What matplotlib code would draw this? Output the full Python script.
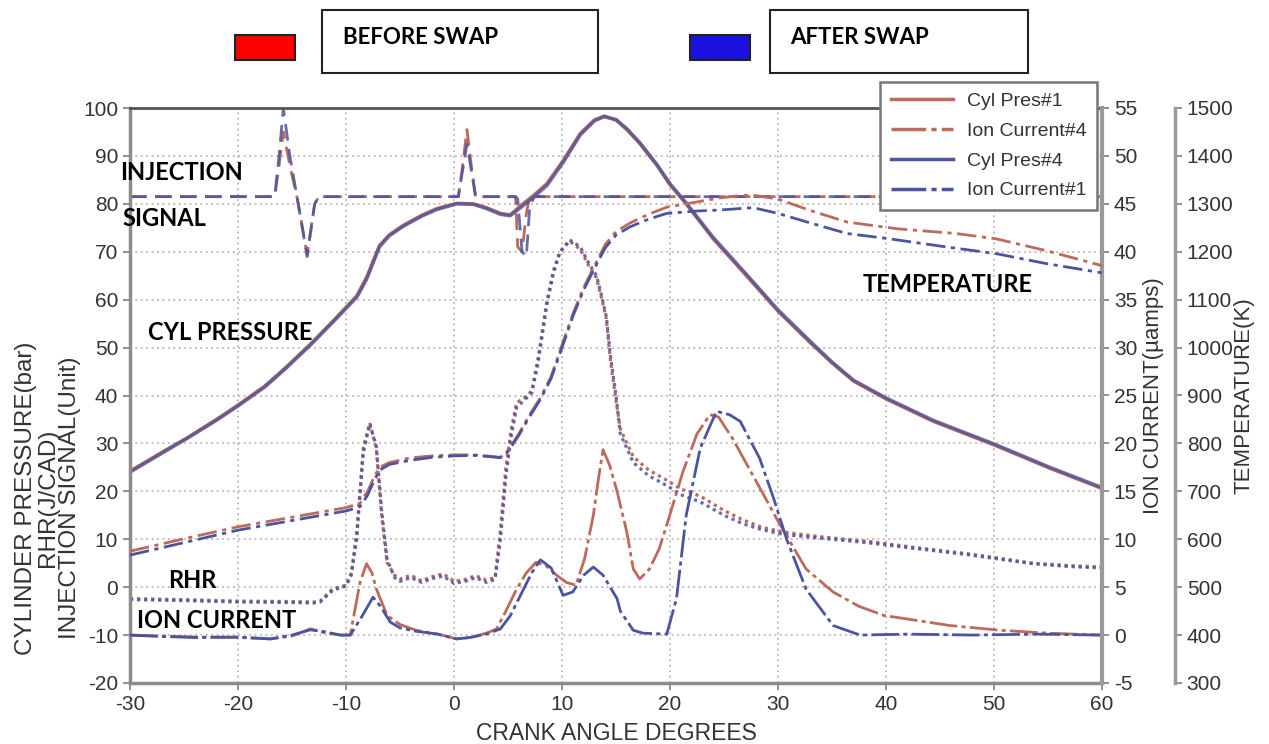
import matplotlib
matplotlib.use('Agg')
import matplotlib.pyplot as plt
from matplotlib.lines import Line2D
from matplotlib.patches import Rectangle

plt.rcParams['font.family'] = ['Liberation Sans', 'DejaVu Sans']
plt.rcParams['axes.unicode_minus'] = False

RED = '#bd6a5c'
BLUE = '#4a54a0'

# ---- injection signal (unit, left axis)
inj_x = [-30, -16.6, -16.2, -15.8, -15.2, -14.5, -13.6, -12.9, -12.5, 0.4, 0.8, 1.2, 1.6, 2.0,
         5.7, 5.9, 6.3, 6.7, 7.0, 7.4, 60]
inj_red = [81.5, 81.5, 88, 95, 88, 81, 69.5, 80, 81.5, 81.5, 88, 95.5, 88, 81.5,
           81.5, 71, 70, 78, 81.5, 81.5, 81.5]
inj_blue = [81.5, 81.5, 90, 100, 90, 81, 69, 80, 81.5, 81.5, 87, 92.5, 87, 81.5,
            81.5, 81, 70, 69, 79, 81.5, 81.5]

# ---- cylinder pressure (bar, left axis)
p_x = [-30, -27, -24.75, -22, -20, -17.5, -15.5, -13.3, -11, -9, -8.1, -6.9, -6, -4.7, -3, -1.6,
       0.25, 1.8, 3, 4.3, 5.2, 6.4, 7.5, 8.6, 10.1, 11.7, 13, 13.9, 15, 16, 17.2, 18.8, 20, 21.5,
       24, 27, 30, 33, 35, 37, 40, 44.4, 50, 55.2, 60]
p_red = [24.2, 28.2, 31.1, 35, 38, 42, 46, 50.7, 56, 60.8, 64.6, 71.3, 73.5, 75.5, 77.6, 79,
         80.1, 80, 79.2, 78, 77.7, 80, 82, 84.2, 89, 94.7, 97.5, 98.3, 97.5, 95.5, 92.6, 88, 84, 80,
         72.7, 65.2, 57.6, 51, 46.8, 43, 39.3, 34.6, 29.7, 24.8, 20.6]
p_blue = [24.0, 28.0, 31.0, 34.8, 37.8, 41.8, 45.8, 50.5, 55.8, 60.5, 64.2, 71.0, 73.3, 75.3, 77.4, 78.8,
          80.0, 79.9, 79.0, 77.8, 77.5, 79.6, 81.6, 83.8, 88.6, 94.4, 97.3, 98.2, 97.6, 95.7, 92.8, 88.2, 84.2,
          80.2, 73.0, 65.5, 57.9, 51.3, 47.0, 43.2, 39.5, 34.8, 29.9, 25.0, 20.8]

# ---- RHR (J/CAD, left axis)
r_x = [-30, -25, -20, -15, -13, -12.4, -11.2, -10, -9.5, -9, -8.4, -7.8, -7.2, -6.7, -6.2, -5.5, -5,
       -4, -3, -2, -1, 0, 1, 2, 3, 3.8, 4.3, 4.8, 5.3, 5.8, 6.5, 7.2, 7.8, 8.6, 9.2, 9.8, 10.7, 11.7,
       12.5, 13.2, 13.7, 14.1, 14.5, 15, 15.4, 16.6, 18, 19.7, 21, 22.8, 25, 26.8, 28.5, 30.5, 34,
       38.2, 43, 47.5, 50, 53.6, 57, 60]
r_red = [-2.4, -2.6, -2.9, -3.0, -3.1, -2.9, -0.3, 0.4, 3, 11.5, 29, 34.3, 29, 15, 5.2, 2.5, 1.7,
         2.5, 1.3, 2.2, 2.8, 1.2, 1.6, 2.4, 1.5, 2, 12, 25, 33, 38.5, 39.5, 41, 48, 59.7, 66, 70, 72.2,
         70.5, 67, 64.5, 60, 56, 47, 39, 33, 27.2, 24.5, 22.3, 20.5, 19, 16, 14, 12.5, 11.5, 10.5,
         9.6, 8.2, 7, 6.2, 5, 4.5, 4.2]
r_blue = [-2.6, -2.8, -3.1, -3.2, -3.3, -3.1, -0.6, 0.2, 2.6, 10.5, 28, 34.0, 29.5, 16, 5.8, 2.0, 1.2,
          2.0, 1.0, 1.8, 2.3, 0.8, 1.2, 2.0, 1.0, 1.6, 10, 23, 31.5, 37.5, 39, 40.5, 47, 59, 65.5, 69.8, 72.5,
          71.0, 67.5, 65, 60.5, 56.5, 48, 40, 32, 26, 23.3, 21.2, 19.3, 17.8, 15, 13.2, 12.0, 11.0, 10.2,
          9.3, 8.0, 6.8, 6.0, 4.9, 4.3, 4.0]

# ---- temperature (K, second right axis)
t_x_red = [-30, -25, -20, -15, -12, -10, -8.7, -8, -7.4, -6.9, -6, -4, -2, 0, 2, 3.5, 4.3, 5, 6, 7,
           8, 9, 10, 11, 12, 13, 14, 15, 16.3, 18, 19.7, 22.5, 24.5, 26.8, 28, 30, 33, 36.4, 41,
           46.5, 50.2, 54.9, 60]
t_red = [575, 601, 626, 646, 658, 666, 675, 700, 730, 750, 760, 770, 774, 776, 776, 773, 771, 785,
         820, 860, 895, 940, 1005, 1070, 1125, 1170, 1215, 1242, 1260, 1278, 1293, 1304, 1312, 1318,
         1317, 1310, 1286, 1262, 1248, 1238, 1227, 1202, 1171]
t_x_blue = [-30, -25, -20, -15, -12, -10, -8.7, -8, -7.4, -6.9, -6, -4, -2, 0, 2, 3.5, 4.3, 5, 6, 7,
            8, 9, 10, 11, 12, 13, 14, 15, 16.3, 18, 19.7, 22.5, 24.5, 27.7, 30, 33, 36.4, 40, 45.6,
            50.2, 54.9, 60]
t_blue = [567, 593, 619, 639, 651, 659, 668, 692, 722, 744, 756, 765, 771, 774, 775, 772, 770, 783,
          817, 856, 892, 936, 1000, 1065, 1120, 1165, 1208, 1235, 1252, 1268, 1280, 1285, 1287, 1292,
          1280, 1260, 1238, 1228, 1210, 1196, 1175, 1156]

# ---- ion current (uA, first right axis)
i_x_red = [-30, -27, -24, -20, -17, -15, -13.3, -12, -10.5, -9.6, -9.2, -8.7, -8.1, -7.6, -7.2,
           -6.2, -5, -3.5, -1.5, 0.25, 1.5, 3, 3.95, 4.8, 5.8, 6.7, 7.6, 8.5, 9.5, 10.4, 11.3, 12.1,
           12.9, 13.4, 13.8, 14.4, 15.1, 16, 16.6, 17.2, 18.1, 19, 19.7, 21.2, 22.5, 23.7, 24.5,
           25.8, 28, 30.2, 32.6, 35.1, 37.5, 39.8, 43, 45.9, 50.6, 55, 59.8]
i_red = [0, -0.1, -0.2, -0.25, -0.4, -0.1, 0.65, 0.25, 0, 0, 2.5, 5.5, 7.45, 6.5, 4.85,
         2.05, 1.1, 0.5, 0.1, -0.4, -0.25, 0.2, 0.65, 2.5, 4.8, 6.5, 7.6, 7.25, 6.25, 5.5, 5.2, 8,
         12.5, 16.5, 19.35, 17.75, 15, 10.75, 6.9, 5.85, 6.9, 9, 11.5, 17.05, 21, 23, 22.75,
         20.5, 16, 11.5, 6.9, 4.5, 3, 2.05, 1.5, 1, 0.5, 0.2, 0]
i_x_blue = [-30, -27, -24, -20, -17, -15, -13.3, -12, -10.5, -9.6, -8.5, -7.5, -6.8, -5.9, -5,
            -3.5, -1.5, 0.25, 1.5, 3, 4.3, 5.2, 6.2, 7.2, 8, 9, 10.1, 11, 12, 12.9, 13.8, 15.1,
            15.4, 16.6, 17.5, 19.7, 20.6, 21.5, 22.8, 24.3, 25.5, 26.5, 28.3, 29.6, 30.8, 32.6,
            35.1, 37.6, 42, 48, 54, 60]
i_blue = [0, -0.15, -0.25, -0.2, -0.4, 0, 0.55, 0.35, 0, 0, 2, 3.95, 3, 1.35, 0.75,
          0.4, 0.1, -0.4, -0.25, 0.1, 0.65, 2, 4.25, 6.5, 7.85, 7, 4.15, 4.5, 6.25, 7.1, 6.25, 3.8,
          2.5, 0.5, 0.2, 0.1, 3.8, 12.5, 19.5, 23.35, 23, 22.3, 18.45, 14.25, 10, 4.8,
          1, 0, 0.1, 0, 0.1, 0]

x_ticks = list(range(-30, 61, 10))
left_ticks = list(range(-20, 101, 10))
ion_ticks = list(range(-5, 56, 5))
temp_ticks = list(range(300, 1501, 100))

fig = plt.figure(figsize=(12.69, 7.44), dpi=100)
ax = fig.add_axes([130 / 1269, 61 / 744, 972 / 1269, 575 / 744])
ax_ion = ax.twinx()
ax_tmp = ax.twinx()
ax_tmp.spines['right'].set_position(('axes', 1.075))

# main axes
ax.set_xlim(-30, 60)
ax.set_ylim(-20, 100)
ax.set_xticks(x_ticks)
ax.set_yticks(left_ticks)
ax.grid(True, color='#b8b8b8', linestyle=(0, (1, 2)), linewidth=1.3)
ax.tick_params(labelsize=15, labelcolor='#333333', color='#888888', length=5, width=1.3)
for s in ['left', 'bottom']:
    ax.spines[s].set_color('#8c8c8c')
    ax.spines[s].set_linewidth(2.5)
ax.spines['top'].set_color('#555555')
ax.spines['top'].set_linewidth(2)
ax.spines['right'].set_visible(False)
ax.set_xlabel('CRANK ANGLE DEGREES', fontsize=16.5, color='#333333', labelpad=6)

ax.plot(inj_x, inj_red, color=RED, lw=2, dashes=(6, 3))
ax.plot(inj_x, inj_blue, color=BLUE, lw=2, dashes=(6, 3), alpha=0.85)
ax.plot(p_x, p_red, color=RED, lw=2.5)
ax.plot(p_x, p_blue, color=BLUE, lw=2.5, alpha=0.75)
ax.plot(r_x, r_red, color=RED, lw=2.3, linestyle=(0, (1, 1.2)))
ax.plot(r_x, r_blue, color=BLUE, lw=2.3, linestyle=(0, (1, 1.2)), alpha=0.85)

# ion current axis
ax_ion.set_ylim(-5, 55)
ax_ion.set_yticks(ion_ticks)
ax_ion.tick_params(labelsize=15, labelcolor='#333333', color='#888888', length=5, width=1.3)
for s in ['left', 'top', 'bottom']:
    ax_ion.spines[s].set_visible(False)
ax_ion.spines['right'].set_color('#999999')
ax_ion.spines['right'].set_linewidth(3)
ax_ion.set_ylabel('ION CURRENT(\u00b5amps)', fontsize=16, color='#333333', labelpad=4)
ax_ion.plot(i_x_red, i_red, color=RED, lw=2, linestyle=(0, (10, 1.5, 1.5, 1.5)))
ax_ion.plot(i_x_blue, i_blue, color=BLUE, lw=2, linestyle=(0, (10, 1.5, 1.5, 1.5)))

# temperature axis
ax_tmp.set_ylim(300, 1500)
ax_tmp.set_yticks(temp_ticks)
ax_tmp.tick_params(labelsize=15, labelcolor='#333333', color='#888888', length=5, width=1.3)
for s in ['left', 'top', 'bottom']:
    ax_tmp.spines[s].set_visible(False)
ax_tmp.spines['right'].set_color('#999999')
ax_tmp.spines['right'].set_linewidth(2.5)
ax_tmp.set_ylabel('TEMPERATURE(K)', fontsize=16, color='#333333', labelpad=0)
ax_tmp.plot(t_x_red, t_red, color=RED, lw=2, linestyle=(0, (7, 2, 1.5, 2)))
ax_tmp.plot(t_x_blue, t_blue, color=BLUE, lw=2, linestyle=(0, (7, 2, 1.5, 2)))

# left multi-line label
fig.text(48 / 1269, 1 - 498 / 744, 'CYLINDER PRESSURE(bar)\nRHR(J/CAD)\nINJECTION SIGNAL(Unit)',
         rotation=90, ha='center', va='center', multialignment='center', fontsize=17.5,
         color='#333333', linespacing=0.98)

# curve annotations
bold = dict(family=['Lato', 'DejaVu Sans'], weight='bold', fontsize=17, color='black', va='center')
fig.text(120 / 1269, 1 - 173 / 744, 'INJECTION', **bold)
fig.text(122 / 1269, 1 - 218 / 744, 'SIGNAL', **bold)
fig.text(148 / 1269, 1 - 333 / 744, 'CYL PRESSURE', **bold)
fig.text(863 / 1269, 1 - 285 / 744, 'TEMPERATURE', **bold)
fig.text(168 / 1269, 1 - 580 / 744, 'RHR', **bold)
fig.text(137 / 1269, 1 - 620 / 744, 'ION CURRENT', **bold)

# header swatches and boxes
fig.patches.append(Rectangle((235 / 1269, 1 - 60 / 744), 60 / 1269, 25 / 744, transform=fig.transFigure,
                             facecolor='#ff0000', edgecolor='#222222', lw=1.5))
fig.patches.append(Rectangle((322 / 1269, 1 - 73 / 744), 276 / 1269, 63 / 744, transform=fig.transFigure,
                             facecolor='white', edgecolor='#222222', lw=1.5))
fig.patches.append(Rectangle((690 / 1269, 1 - 60 / 744), 60 / 1269, 25 / 744, transform=fig.transFigure,
                             facecolor='#1a10e0', edgecolor='#222222', lw=1.5))
fig.patches.append(Rectangle((770 / 1269, 1 - 73 / 744), 258 / 1269, 63 / 744, transform=fig.transFigure,
                             facecolor='white', edgecolor='#222222', lw=1.5))
hdr = dict(family=['Lato', 'DejaVu Sans'], weight='bold', fontsize=16, color='black', va='center')
fig.text(343 / 1269, 1 - 38 / 744, 'BEFORE SWAP', **hdr)
fig.text(790 / 1269, 1 - 38 / 744, 'AFTER SWAP', **hdr)

# legend
handles = [Line2D([], [], color=RED, lw=2.5),
           Line2D([], [], color=RED, lw=2.5, linestyle=(0, (10, 1.5, 1.5, 1.5))),
           Line2D([], [], color=BLUE, lw=2.5),
           Line2D([], [], color=BLUE, lw=2.5, linestyle=(0, (10, 1.5, 1.5, 1.5)))]
labels = ['Cyl Pres#1', 'Ion Current#4', 'Cyl Pres#4', 'Ion Current#1']
leg = fig.legend(handles, labels, loc='upper left', bbox_to_anchor=(880 / 1269, 1 - 82 / 744),
                 borderaxespad=0, fontsize=14, handlelength=3.2, handletextpad=0.7, labelspacing=0.62,
                 borderpad=0.55, fancybox=False, framealpha=1, edgecolor='#777777')
leg.get_frame().set_linewidth(1.8)
for t in leg.get_texts():
    t.set_color('#333333')

fig.savefig('out.png', dpi=100)
